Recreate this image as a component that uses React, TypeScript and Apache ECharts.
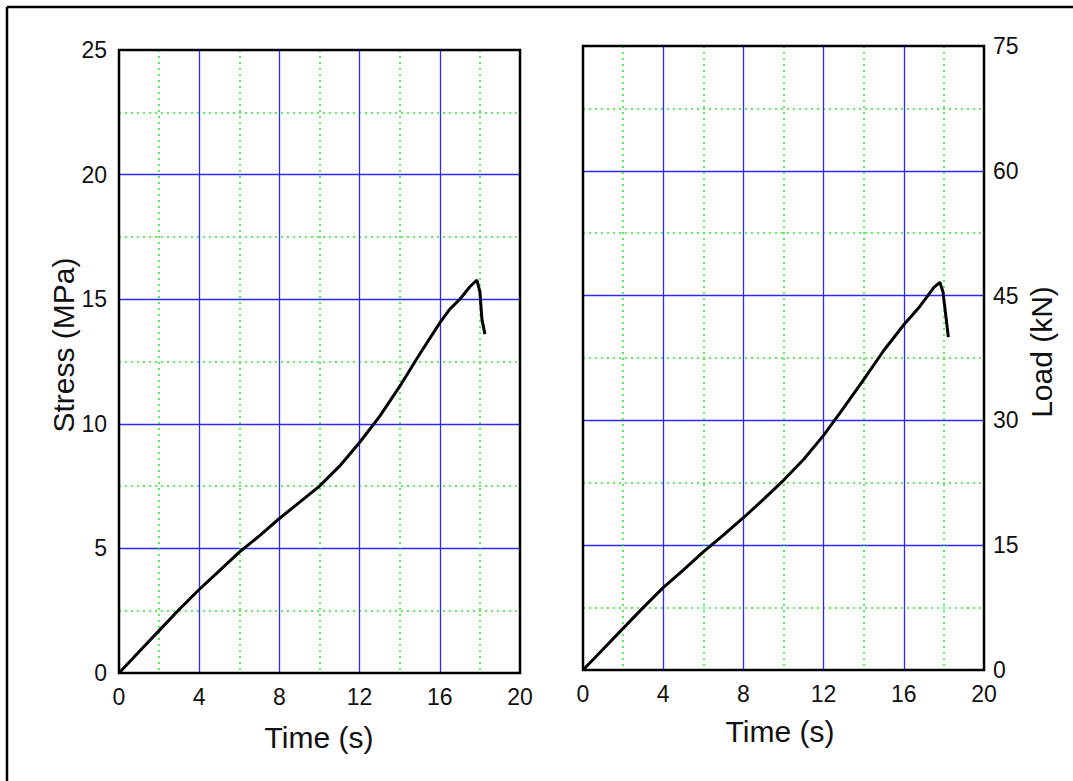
import React, { useEffect, useRef } from "react";
import * as echarts from "echarts";

// Left panel: stress vs time
const stressTime = [0, 1, 2, 3, 4, 5, 6, 7, 8, 9, 10, 11, 12, 13, 14, 15, 16, 16.5, 17, 17.5, 17.85, 18.0, 18.1, 18.25];
const stressMPa = [0, 0.85, 1.7, 2.55, 3.35, 4.1, 4.85, 5.5, 6.2, 6.85, 7.5, 8.3, 9.25, 10.3, 11.5, 12.8, 14.05, 14.6, 15.0, 15.5, 15.77, 15.3, 14.2, 13.6];

// Right panel: load vs time
const loadTime = [0, 1, 2, 3, 4, 5, 6, 7, 8, 9, 10, 11, 12, 13, 14, 15, 16, 16.8, 17.2, 17.5, 17.8, 17.95, 18.1, 18.22];
const loadKN = [0, 2.5, 5.0, 7.5, 9.9, 12.0, 14.2, 16.2, 18.3, 20.5, 22.8, 25.3, 28.2, 31.5, 34.9, 38.4, 41.5, 43.7, 45.0, 46.0, 46.6, 45.5, 42.5, 40.0];

const xTitle = "Time (s)";
const yLeftTitle = "Stress (MPa)";
const yRightTitle = "Load (kN)";

const FONT = "'Liberation Sans', Arial, sans-serif";
const BLUE = "#2a2aff";
const GREEN = "#22ee22";

function pairs(xs: number[], ys: number[]) {
  return xs.map((x, i) => [x, ys[i]]);
}

const axisCommon = {
  type: "value" as const,
  axisTick: { show: false },
  axisLine: { show: false },
  axisLabel: { fontSize: 23, color: "#111", fontFamily: FONT, margin: 12 },
  splitLine: { show: true, showMinLine: false, showMaxLine: false, lineStyle: { color: BLUE, width: 1.3, type: "solid" as const } },
  minorTick: { show: false, splitNumber: 2 },
  minorSplitLine: { show: true, lineStyle: { color: GREEN, width: 1.5, type: [2, 4] as any } },
};

export default function App() {
  const ref = useRef<HTMLDivElement>(null);
  useEffect(() => {
    if (!ref.current) return;
    const chart = echarts.init(ref.current, undefined, { renderer: "svg" });
    chart.setOption({
      animation: false,
      backgroundColor: "#fff",
      grid: [
        { left: 119, top: 50, width: 401, height: 623, show: true, borderColor: "#000", borderWidth: 2.5, backgroundColor: "transparent", z: 10 },
        { left: 583, top: 46, width: 401, height: 624, show: true, borderColor: "#000", borderWidth: 2.5, backgroundColor: "transparent", z: 10 },
      ],
      xAxis: [
        { ...axisCommon, gridIndex: 0, min: 0, max: 20, interval: 4 },
        { ...axisCommon, gridIndex: 1, min: 0, max: 20, interval: 4 },
      ],
      yAxis: [
        { ...axisCommon, gridIndex: 0, min: 0, max: 25, interval: 5, axisLabel: { ...axisCommon.axisLabel, align: "right" } },
        { ...axisCommon, gridIndex: 1, position: "right", min: 0, max: 75, interval: 15, axisLabel: { ...axisCommon.axisLabel, align: "left", margin: 9 } },
      ],
      series: [
        {
          type: "line",
          xAxisIndex: 0,
          yAxisIndex: 0,
          data: pairs(stressTime, stressMPa),
          showSymbol: false,
          smooth: false,
          lineStyle: { color: "#000", width: 3 },
          z: 5,
        },
        {
          type: "line",
          xAxisIndex: 1,
          yAxisIndex: 1,
          data: pairs(loadTime, loadKN),
          showSymbol: false,
          smooth: false,
          lineStyle: { color: "#000", width: 3 },
          z: 5,
        },
      ],
      graphic: [
        { type: "line", shape: { x1: 7, y1: 7, x2: 1073, y2: 7 }, style: { stroke: "#000", lineWidth: 2.5 } },
        { type: "line", shape: { x1: 7, y1: 7, x2: 7, y2: 781 }, style: { stroke: "#000", lineWidth: 2.5 } },
        {
          type: "text",
          x: 319,
          y: 737,
          style: { text: xTitle, font: `30px ${FONT}`, fill: "#111", textAlign: "center", textVerticalAlign: "middle" },
        },
        {
          type: "text",
          x: 780,
          y: 731,
          style: { text: xTitle, font: `30px ${FONT}`, fill: "#111", textAlign: "center", textVerticalAlign: "middle" },
        },
        {
          type: "text",
          x: 63,
          y: 345,
          rotation: Math.PI / 2,
          style: { text: yLeftTitle, font: `30px ${FONT}`, fill: "#111", textAlign: "center", textVerticalAlign: "middle" },
        },
        {
          type: "text",
          x: 1041,
          y: 352,
          rotation: Math.PI / 2,
          style: { text: yRightTitle, font: `30px ${FONT}`, fill: "#111", textAlign: "center", textVerticalAlign: "middle" },
        },
      ],
    });
    return () => chart.dispose();
  }, []);
  return <div ref={ref} style={{ position: "absolute", left: 0, top: 0, width: 1073, height: 781 }} />;
}
